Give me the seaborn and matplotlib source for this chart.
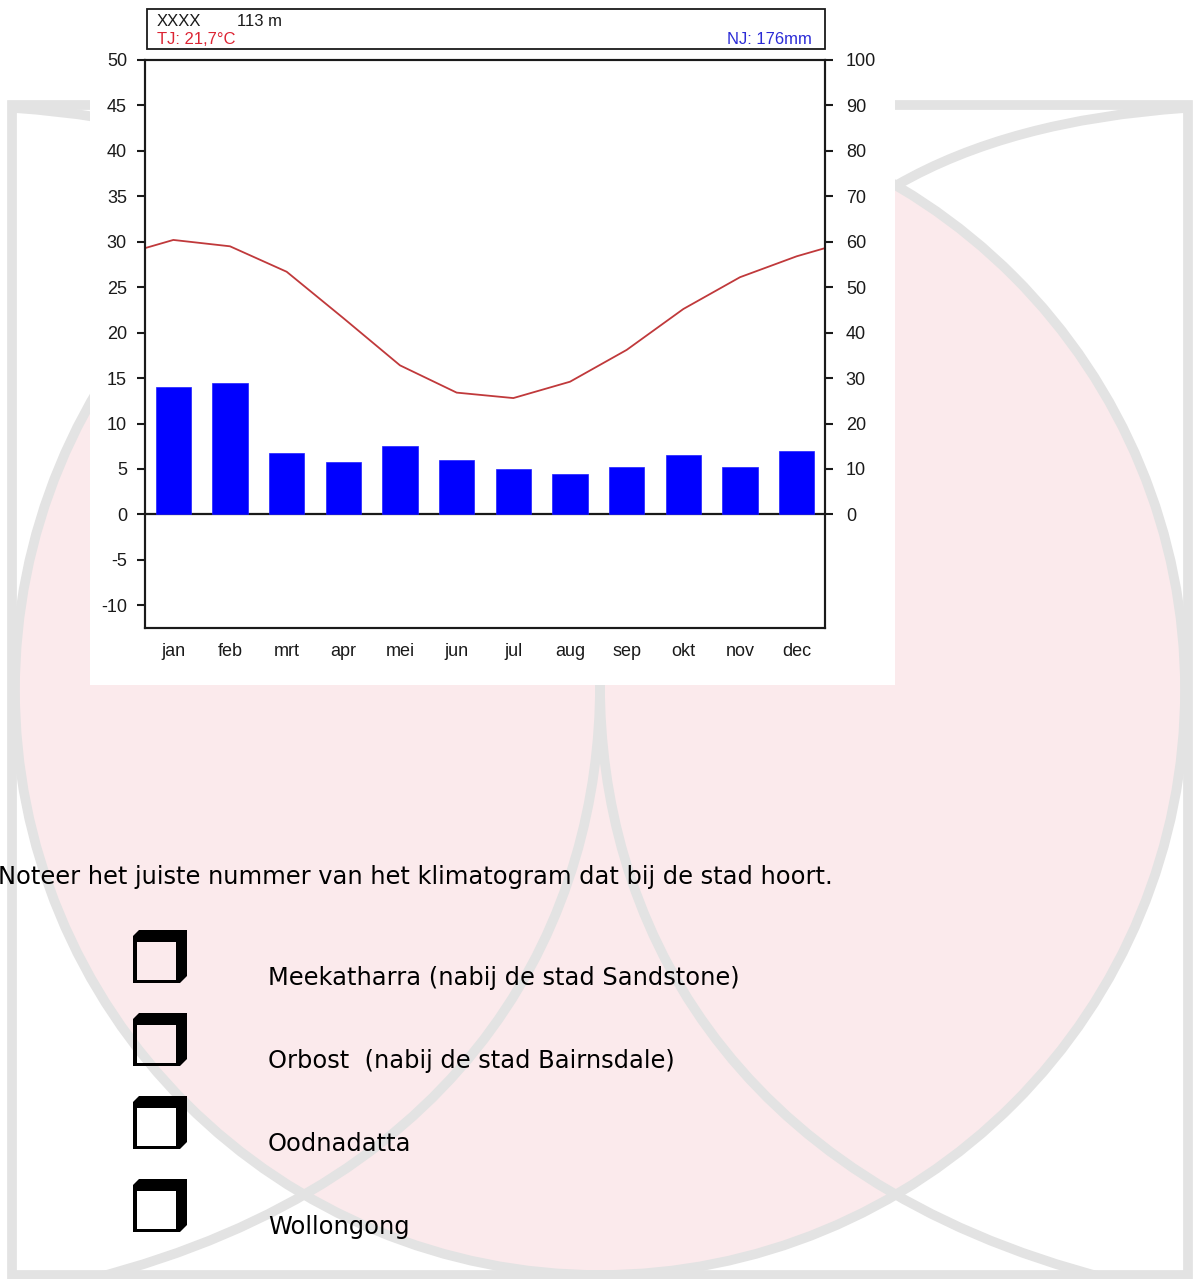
import numpy as np
import matplotlib
matplotlib.use("Agg")
import matplotlib.pyplot as plt
import seaborn as sns
from matplotlib.patches import Rectangle, Circle, PathPatch
from matplotlib.path import Path

# klimatogram data
months = ['jan', 'feb', 'mrt', 'apr', 'mei', 'jun', 'jul', 'aug', 'sep', 'okt', 'nov', 'dec']
temperature = [30.2, 29.5, 26.7, 21.6, 16.4, 13.4, 12.8, 14.6, 18.1, 22.6, 26.1, 28.4]
precipitation = [28, 29, 13.5, 11.5, 15, 12, 10, 9, 10.5, 13, 10.5, 14]
temp_ticks = list(range(-10, 55, 5))
prec_ticks = list(range(0, 110, 10))

station = 'XXXX'
altitude = '113 m'
annual_temp = 'TJ: 21,7°C'
annual_prec = 'NJ: 176mm'
question = 'Noteer het juiste nummer van het klimatogram dat bij de stad hoort.'
options = ['Meekatharra (nabij de stad Sandstone)',
           'Orbost  (nabij de stad Bairnsdale)',
           'Oodnadatta',
           'Wollongong']

sns.set_style('white')
plt.rcParams['font.family'] = ['Liberation Sans', 'DejaVu Sans']
plt.rcParams['axes.unicode_minus'] = False

W, H = 1194, 1279
PINK = '#fbeaec'
GREY = '#e3e3e3'
INK = '#1a1a1a'

fig = plt.figure(figsize=(W / 100, H / 100), dpi=100)
fig.patch.set_facecolor('white')

# achtergrond in pixelcoordinaten (watermerk, tekst, vakjes)
bg = fig.add_axes([0, 0, 1, 1])
bg.set_xlim(0, W)
bg.set_ylim(H, 0)
bg.axis('off')


def curve(points, lw=7):
    codes = [Path.MOVETO] + [Path.CURVE4 if len(points) == 4 else Path.CURVE3] * (len(points) - 1)
    bg.add_patch(PathPatch(Path(points, codes), fill=False, edgecolor=GREY, lw=lw, zorder=2))


bg.add_patch(Circle((600, 690), 585, facecolor=PINK, edgecolor=GREY, lw=7, zorder=1))
bg.add_patch(Rectangle((12, 105), 1176, 1170, fill=False, edgecolor=GREY, lw=7, zorder=2))
curve([(897, 185), (1010, 120), (1185, 108)])
curve([(303, 185), (190, 120), (15, 108)])
curve([(600, 685), (600, 910), (480, 1180), (91, 1279)])
curve([(600, 685), (600, 910), (720, 1180), (1109, 1279)])

# witte achtergrond van het klimatogram
bg.add_patch(Rectangle((90, 0), 805, 685, facecolor='white', lw=0, zorder=3))

# kopje met station en jaarwaarden
bg.add_patch(Rectangle((147, 9), 678, 40, fill=False, edgecolor=INK, lw=1.3, zorder=4))
bg.text(157, 26, station, fontsize=12, color=INK, zorder=5)
bg.text(237, 26, altitude, fontsize=12, color=INK, zorder=5)
bg.text(157, 44, annual_temp, fontsize=12, color='#dc2433', zorder=5)
bg.text(812, 44, annual_prec, fontsize=12, color='#2b2bd6', ha='right', zorder=5)

# vraag en antwoordvakjes
bg.text(-2, 884, question, fontsize=17.4, family='DejaVu Sans', color='black', zorder=5)


def checkbox(x, y):
    outer = [(x, y + 6), (x + 6, y), (x + 54, y), (x + 54, y + 46), (x + 47, y + 53), (x, y + 53), (x, y + 6)]
    inner = [(x + 4, y + 12), (x + 4, y + 50), (x + 43, y + 50), (x + 43, y + 12), (x + 4, y + 12)]
    path = Path.make_compound_path(Path(outer, closed=True), Path(inner, closed=True))
    bg.add_patch(PathPatch(path, facecolor='black', edgecolor='none', zorder=5))


for i, label in enumerate(options):
    checkbox(133, 930 + 83 * i)
    bg.text(268, 985 + 83 * i, label, fontsize=17.4, family='DejaVu Sans', color='black', zorder=5)

# het klimatogram zelf
ax = fig.add_axes([145 / W, 1 - 628 / H, 680 / W, 568 / H])
ax.patch.set_alpha(0)
ax2 = ax.twinx()

sns.barplot(x=months, y=precipitation, ax=ax2, color='#0000ff', saturation=1,
            width=0.62, edgecolor='#2020ff', linewidth=0.5)

# lijn loopt door tot de randen (gemiddelde van dec en jan)
edge = (temperature[0] + temperature[-1]) / 2
line_x = [-0.5] + list(range(len(months))) + [len(months) - 0.5]
line_y = [edge] + temperature + [edge]
sns.lineplot(x=line_x, y=line_y, ax=ax, color='#c0393b', lw=1.3, sort=False)
ax.axhline(0, color=INK, lw=1.6, zorder=3)

ax.set_xlim(-0.5, len(months) - 0.5)
ax.set_ylim(-12.5, 50)
ax.set_yticks(temp_ticks)
ax2.set_ylim(-25, 100)
ax2.set_yticks(prec_ticks)
ax2.set_xticks(range(len(months)))
ax2.set_xticklabels(months)
ax.set_xlabel('')
ax2.set_xlabel('')
ax.set_ylabel('')
ax2.set_ylabel('')

ax.tick_params(axis='y', direction='out', length=6, width=1.5, color=INK,
               labelsize=13, labelcolor=INK, pad=7)
ax2.tick_params(axis='y', direction='out', length=6, width=1.5, color=INK,
                labelsize=13, labelcolor=INK, pad=9)
ax2.tick_params(axis='x', length=0, labelsize=13, labelcolor=INK, pad=11)
ax.tick_params(axis='x', length=0, labelsize=13, labelcolor=INK, pad=11)

for a in (ax, ax2):
    for s in a.spines.values():
        s.set_visible(True)
        s.set_linewidth(1.5)
        s.set_color(INK)
    a.grid(False)

fig.savefig('out.png', dpi=100)
